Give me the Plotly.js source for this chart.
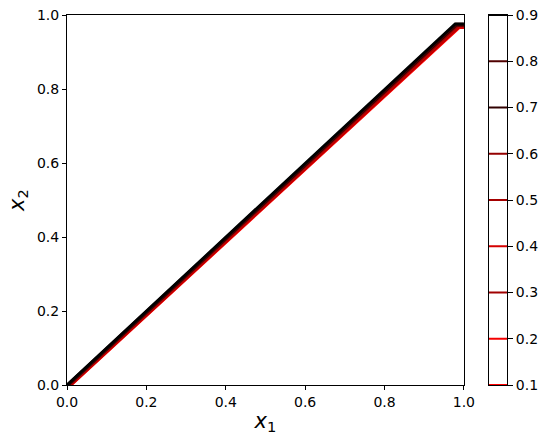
<!DOCTYPE html>
<html>
<head>
<meta charset="utf-8">
<script src="https://cdn.plot.ly/plotly-3.0.1.min.js"></script>
<style>
  body { margin: 0; background: white; }
  #chart { width: 549px; height: 444px; }
</style>
</head>
<body>
<div id="chart"></div>
<script>
// contour levels and their line colours (red -> black)
var levels = [0.1, 0.2, 0.3, 0.4, 0.5, 0.6, 0.7, 0.8, 0.9];
var levelColors = ['#ff0000', '#f40000', '#a00000', '#d40000', '#a40000',
                   '#940000', '#300000', '#500000', '#000000'];

// contour paths, one per level
var levelX = [
    [0.010, 0.988, 1.0],
    [0.009, 0.987, 1.0],
    [0.008, 0.986, 1.0],
    [0.006, 0.985, 1.0],
    [0.005, 0.984, 1.0],
    [0.004, 0.982, 1.0],
    [0.003, 0.981, 1.0],
    [0.001, 0.980, 1.0],
    [0.000, 0.978, 1.0]
];
var levelY = [
    [0.0, 0.966, 0.966],
    [0.0, 0.967, 0.967],
    [0.0, 0.968, 0.968],
    [0.0, 0.969, 0.969],
    [0.0, 0.971, 0.971],
    [0.0, 0.972, 0.972],
    [0.0, 0.973, 0.973],
    [0.0, 0.975, 0.975],
    [0.0, 0.976, 0.976]
];

var axisTicks = [0, 0.2, 0.4, 0.6, 0.8, 1.0];
var axisTickText = ['0.0', '0.2', '0.4', '0.6', '0.8', '1.0'];
var barTickText = ['0.1', '0.2', '0.3', '0.4', '0.5', '0.6', '0.7', '0.8', '0.9'];

var data = [];

// main contour lines
for (var i = 0; i < levels.length; i++) {
    data.push({
        x: levelX[i],
        y: levelY[i],
        type: 'scatter',
        mode: 'lines',
        line: {color: levelColors[i], width: 3},
        hoverinfo: 'skip',
        showlegend: false,
        xaxis: 'x',
        yaxis: 'y'
    });
}

// colorbar: one short line per level
for (var j = 0; j < levels.length; j++) {
    data.push({
        x: [0, 1],
        y: [levels[j], levels[j]],
        type: 'scatter',
        mode: 'lines',
        line: {color: levelColors[j], width: 2},
        hoverinfo: 'skip',
        showlegend: false,
        xaxis: 'x2',
        yaxis: 'y2'
    });
}

var tickFont = {family: 'DejaVu Sans', size: 14, color: 'black'};
var titleFont = {family: 'DejaVu Sans', size: 21, color: 'black'};

var layout = {
    width: 549,
    height: 444,
    margin: {l: 67, r: 42, t: 15, b: 59},
    paper_bgcolor: 'white',
    plot_bgcolor: 'white',
    showlegend: false,
    xaxis: {
        domain: [0, 0.902],
        range: [0, 1],
        tickvals: axisTicks,
        ticktext: axisTickText,
        ticks: 'outside',
        ticklen: 4,
        tickcolor: 'black',
        showgrid: false,
        zeroline: false,
        showline: true,
        linecolor: 'black',
        linewidth: 1,
        mirror: true,
        tickfont: tickFont,
        title: {text: '<i>x</i><sub>1</sub>', font: titleFont, standoff: 4}
    },
    yaxis: {
        domain: [0, 1],
        range: [0, 1],
        tickvals: axisTicks,
        ticktext: axisTickText,
        ticks: 'outside',
        ticklen: 4,
        tickcolor: 'black',
        showgrid: false,
        zeroline: false,
        showline: true,
        linecolor: 'black',
        linewidth: 1,
        mirror: true,
        tickfont: tickFont,
        title: {text: '<i>x</i><sub>2</sub>', font: titleFont, standoff: 6}
    },
    xaxis2: {
        domain: [0.959, 1],
        range: [0, 1],
        anchor: 'y2',
        showticklabels: false,
        ticks: '',
        showgrid: false,
        zeroline: false,
        showline: true,
        linecolor: 'black',
        linewidth: 1,
        mirror: true
    },
    yaxis2: {
        domain: [0, 1],
        range: [0.1, 0.9],
        anchor: 'x2',
        side: 'right',
        tickvals: levels,
        ticktext: barTickText,
        ticks: 'outside',
        ticklen: 5,
        tickcolor: 'black',
        showgrid: false,
        zeroline: false,
        showline: true,
        linecolor: 'black',
        linewidth: 1,
        mirror: true,
        tickfont: tickFont
    }
};

Plotly.newPlot('chart', data, layout, {displayModeBar: false, staticPlot: true});
</script>
</body>
</html>
